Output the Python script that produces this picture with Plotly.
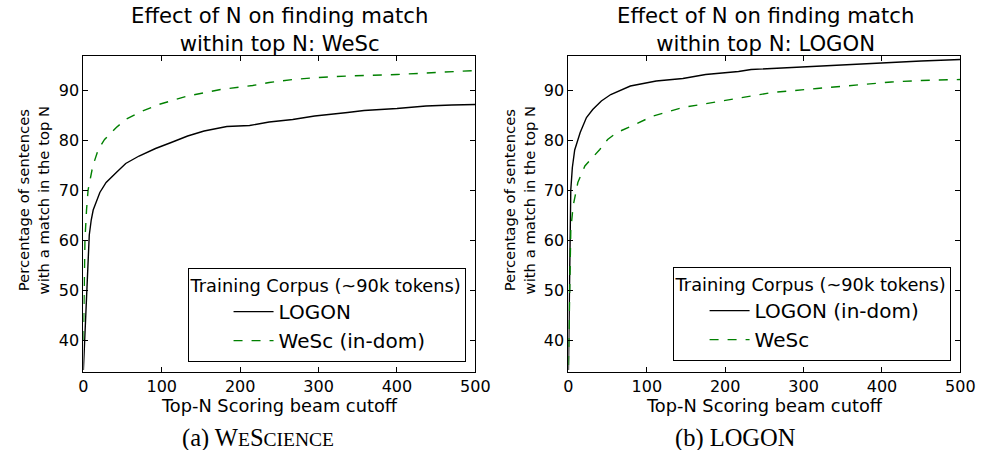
import plotly.graph_objects as go

# ---- data ----
wesc_logon_n = [0, 2, 4, 6, 7.5, 10, 12.5, 21, 29, 42, 54, 71, 92, 112, 133, 154, 183, 212, 237, 267, 295, 337, 358, 400, 437, 470, 500]
wesc_logon_v = [34, 42, 50, 55.5, 61, 64, 66, 69.5, 71.5, 73.5, 75.3, 76.8, 78.3, 79.5, 80.8, 81.8, 82.7, 82.9, 83.6, 84.1, 84.8, 85.5, 85.9, 86.3, 86.8, 87.0, 87.1]
wesc_wesc_n = [0, 1, 2, 4, 6, 12, 19, 27, 42, 54, 71, 96, 133, 175, 216, 237, 267, 300, 337, 400, 450, 500]
wesc_wesc_v = [40, 50, 60, 66, 70, 74.8, 78.1, 80.1, 82.5, 84.1, 85.5, 87.1, 88.8, 90.1, 90.9, 91.5, 92.1, 92.5, 92.8, 93.1, 93.5, 93.9]

logon_logon_n = [0, 1, 3, 5, 8, 15, 23, 31, 42, 54, 79, 112, 146, 175, 217, 233, 317, 400, 450, 500]
logon_logon_v = [34, 50, 70, 74.5, 78, 81.5, 84.5, 86.1, 87.8, 89.1, 90.8, 91.8, 92.3, 93.1, 93.7, 94.1, 94.8, 95.5, 95.8, 96.1]
logon_wesc_n = [0, 1, 2, 3, 6, 12, 21, 29, 40, 50, 62, 79, 108, 146, 183, 221, 260, 317, 360, 412, 450, 500]
logon_wesc_v = [35, 45, 57, 62, 66.8, 71.5, 74.8, 76.1, 78.1, 80.1, 81.5, 82.7, 84.8, 86.5, 87.5, 88.5, 89.5, 90.3, 90.9, 91.6, 91.9, 92.1]

x_ticks = [0, 100, 200, 300, 400, 500]
y_ticks = [40, 50, 60, 70, 80, 90]
titles = ["Effect of N on finding match<br>within top N: WeSc",
          "Effect of N on finding match<br>within top N: LOGON"]
captions = ["(a) W<span style=\"font-size:19.5px\">E</span>S<span style=\"font-size:19.5px\">CIENCE</span>",
            "(b) LOGON"]
legend_title = "Training Corpus (~90k tokens)"
ylabel = "Percentage of sentences<br>with a match in the top N"
xlabel = "Top-N Scoring beam cutoff"

W, H = 994, 450
FONT = "DejaVu Sans"
BLACK = "#000000"
GREEN = "#008000"

fig = go.Figure()

fig.add_trace(go.Scatter(x=wesc_logon_n, y=wesc_logon_v, mode="lines", name="LOGON",
                         line=dict(color=BLACK, width=1.4), xaxis="x", yaxis="y", legend="legend"))
fig.add_trace(go.Scatter(x=wesc_wesc_n, y=wesc_wesc_v, mode="lines", name="WeSc (in-dom)",
                         line=dict(color=GREEN, width=1.4, dash="dash"), xaxis="x", yaxis="y", legend="legend"))
fig.add_trace(go.Scatter(x=logon_logon_n, y=logon_logon_v, mode="lines", name="LOGON (in-dom)",
                         line=dict(color=BLACK, width=1.4), xaxis="x2", yaxis="y2", legend="legend2"))
fig.add_trace(go.Scatter(x=logon_wesc_n, y=logon_wesc_v, mode="lines", name="WeSc",
                         line=dict(color=GREEN, width=1.4, dash="dash"), xaxis="x2", yaxis="y2", legend="legend2"))

yd = [1 - 372 / H, 1 - 56 / H]
axis_common = dict(showline=True, linecolor=BLACK, linewidth=1, mirror="ticks", ticks="inside",
                   ticklen=5, tickcolor=BLACK, showgrid=False, zeroline=False,
                   tickfont=dict(family=FONT, size=16, color=BLACK))

leg_common = dict(xanchor="right", yanchor="bottom", bordercolor=BLACK, borderwidth=1, bgcolor="white",
                  title=dict(text=legend_title, font=dict(size=17.8, family=FONT)),
                  font=dict(size=20, family=FONT), tracegroupgap=0, itemwidth=40)

fig.update_layout(
    width=W, height=H, margin=dict(l=0, r=0, t=0, b=0),
    paper_bgcolor="white", plot_bgcolor="white",
    font=dict(family=FONT, color=BLACK),
    xaxis=dict(domain=[80 / W, 480 / W], range=[0, 500], tickvals=x_ticks, anchor="y", **axis_common),
    yaxis=dict(domain=yd, range=[33.6, 96.8], tickvals=y_ticks, anchor="x", **axis_common),
    xaxis2=dict(domain=[575 / W, 975 / W], range=[0, 500], tickvals=x_ticks, anchor="y2", **axis_common),
    yaxis2=dict(domain=yd, range=[33.6, 96.8], tickvals=y_ticks, anchor="x2", **axis_common),
    legend=dict(x=470 / W, y=1 - 362 / H, indentation=40, **leg_common),
    legend2=dict(x=965 / W, y=1 - 361 / H, indentation=31, **leg_common),
)

title_x = [280, 776]
xlab_x = [280, 775]
cap_x = [258, 746]
ylab_x = [29, 525]
for i in range(2):
    fig.add_annotation(text=titles[i], x=title_x[i] / W, y=1 - 30 / H, xref="paper", yref="paper",
                       showarrow=False, font=dict(size=21.2, family=FONT), xanchor="center", yanchor="middle")
    fig.add_annotation(text=xlabel, x=xlab_x[i] / W, y=1 - 405 / H, xref="paper", yref="paper",
                       showarrow=False, font=dict(size=17.8, family=FONT), xanchor="center", yanchor="middle")
    fig.add_annotation(text=ylabel, x=ylab_x[i] / W, y=1 - 200 / H, xref="paper", yref="paper",
                       showarrow=False, textangle=-90, font=dict(size=14.8, family=FONT),
                       xanchor="center", yanchor="middle")
    fig.add_annotation(text=captions[i], x=cap_x[i] / W, y=1 - 438 / H, xref="paper", yref="paper",
                       showarrow=False, font=dict(size=24.5, family="Liberation Serif"),
                       xanchor="center", yanchor="middle")

fig.write_html("out.html")
